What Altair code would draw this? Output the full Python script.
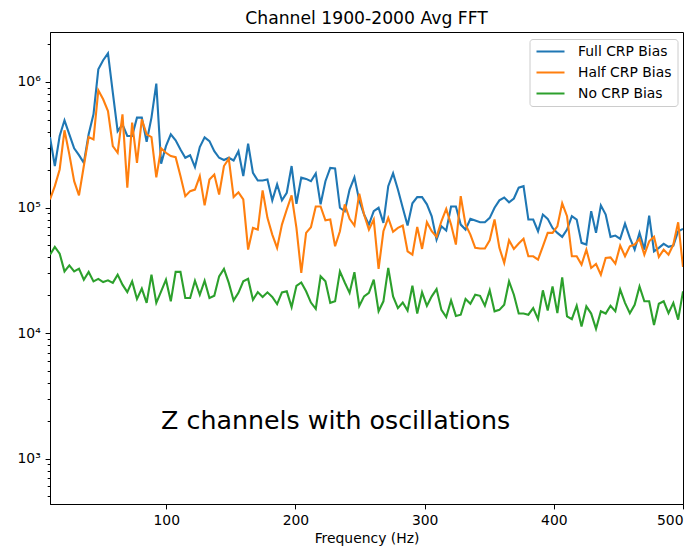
import altair as alt
import pandas as pd

# Frequency bins (Hz): 132 evenly spaced FFT bins from 10 to 500 Hz
freq = [round(10 + i * 490 / 131, 4) for i in range(132)]

full_crp = [3.64e5, 2.14e5, 3.71e5, 4.95e5, 3.83e5, 2.96e5, 2.61e5, 2.27e5, 3.83e5, 5.52e5,
            1.26e6, 1.49e6, 1.69e6, 8.23e5, 4.06e5, 4.59e5, 3.71e5, 3.71e5, 5.2e5, 5.2e5,
            3.34e5, 5.2e5, 9.71e5, 2.23e5, 3.08e5, 3.83e5, 3.43e5, 2.9e5, 2.49e5, 2.61e5,
            2.1e5, 3.03e5, 3.62e5, 3.38e5, 2.81e5, 2.49e5, 2.39e5, 2.49e5, 2.37e5, 2.81e5,
            1.78e5, 3.22e5, 1.89e5, 1.64e5, 1.64e5, 1.67e5, 1.14e5, 1.53e5, 1.14e5, 1.31e5,
            2.14e5, 1.07e5, 1.73e5, 1.69e5, 1.62e5, 1.87e5, 1.06e5, 1.62e5, 2.07e5, 2.05e5,
            9.95e4, 9.34e4, 1.39e5, 1.74e5, 1.14e5, 8.79e4, 7.31e4, 9.34e4, 9.95e4, 7.55e4,
            1.48e5, 1.87e5, 1.39e5, 9.95e4, 7.18e4, 1.08e5, 1.21e5, 1.21e5, 1.06e5, 8.52e4,
            5.55e4, 7.09e4, 6.55e4, 1.02e5, 1.02e5, 7.31e4, 6.67e4, 8.12e4, 7.87e4, 7.63e4,
            7.63e4, 8.27e4, 9.95e4, 1.14e5, 1.2e5, 1.1e5, 1.18e5, 1.44e5, 1.48e5, 8.02e4,
            8.02e4, 6.47e4, 8.79e4, 8.12e4, 6.88e4, 6.28e4, 5.84e4, 6.67e4, 8.52e4, 8.02e4,
            5.23e4, 5.07e4, 9.34e4, 6.28e4, 1.04e5, 8.79e4, 5.84e4, 5.98e4, 5.63e4, 7.45e4,
            5.73e4, 4.62e4, 6.28e4, 4.62e4, 8.63e4, 4.48e4, 4.77e4, 5.13e4, 4.86e4, 4.97e4,
            6.47e4, 6.76e4]

half_crp = [1.16e5, 1.48e5, 2.01e5, 4.12e5, 2.65e5, 1.62e5, 1.25e5, 2.14e5, 3.64e5, 3.49e5,
            8.59e5, 7.28e5, 5.87e5, 3.08e5, 2.73e5, 5.52e5, 1.44e5, 4.74e5, 2.27e5, 5.04e5,
            3.83e5, 3.64e5, 1.74e5, 2.96e5, 2.73e5, 2.57e5, 2.52e5, 1.78e5, 1.23e5, 1.35e5,
            1.39e5, 1.78e5, 1.04e5, 1.67e5, 1.83e5, 1.27e5, 2.14e5, 2.45e5, 1.21e5, 1.32e5,
            1.16e5, 4.62e4, 6.88e4, 6.67e4, 1.37e5, 8.27e4, 6.09e4, 4.77e4, 7.31e4, 9.64e4,
            1.25e5, 6.88e4, 3.01e4, 6.28e4, 6.96e4, 1.02e5, 1.02e5, 7.92e4, 8.02e4, 4.91e4,
            6.47e4, 1.06e5, 8.12e4, 7.18e4, 1.29e5, 8.79e4, 6.67e4, 8.02e4, 3.24e4, 6.47e4,
            8.27e4, 6.4e4, 6.88e4, 7.18e4, 4.48e4, 4.21e4, 7.01e4, 4.68e4, 7.63e4, 6.47e4,
            5.84e4, 7.77e4, 9.76e4, 7.31e4, 5.07e4, 1.23e5, 7.31e4, 6.09e4, 4.77e4, 4.71e4,
            4.71e4, 5.48e4, 8.02e4, 4.77e4, 3.62e4, 5.48e4, 4.68e4, 5.16e4, 5.63e4, 4.09e4,
            4.09e4, 3.85e4, 4.91e4, 6.28e4, 6.28e4, 7.09e4, 1.08e5, 8.52e4, 4.09e4, 4.09e4,
            3.51e4, 4.62e4, 3.3e4, 3.55e4, 2.92e4, 3.97e4, 4.01e4, 3.57e4, 4.97e4, 4.09e4,
            4.91e4, 5.07e4, 5.63e4, 4.21e4, 5.38e4, 5.84e4, 4.04e4, 4.62e4, 4.21e4, 5.07e4,
            7.63e4, 3.36e4]

no_crp = [4.21e4, 4.86e4, 4.29e4, 3.1e4, 3.46e4, 3.1e4, 3.26e4, 2.66e4, 3.07e4, 2.58e4,
          2.7e4, 2.55e4, 2.63e4, 2.51e4, 2.92e4, 2.43e4, 2.12e4, 2.58e4, 1.87e4, 2.26e4,
          1.74e4, 2.92e4, 1.74e4, 2.15e4, 2.66e4, 1.79e4, 3.07e4, 3.07e4, 1.9e4, 1.9e4,
          2.61e4, 2.02e4, 2.61e4, 1.9e4, 1.98e4, 2.83e4, 3.24e4, 2.51e4, 1.82e4, 2.09e4,
          2.58e4, 2.7e4, 1.84e4, 2.12e4, 1.94e4, 2.11e4, 1.94e4, 1.7e4, 2.11e4, 2.15e4,
          1.61e4, 2.38e4, 2.53e4, 2.15e4, 1.75e4, 1.56e4, 2.83e4, 2.58e4, 1.74e4, 1.79e4,
          3.1e4, 2.53e4, 2.09e4, 3.05e4, 1.64e4, 1.96e4, 2.09e4, 2.66e4, 1.49e4, 1.79e4,
          3.3e4, 1.96e4, 1.58e4, 1.75e4, 1.51e4, 2.38e4, 1.43e4, 2.11e4, 1.65e4, 1.96e4,
          2.24e4, 1.53e4, 1.34e4, 1.82e4, 1.37e4, 1.4e4, 1.87e4, 1.71e4, 2.02e4, 1.98e4,
          1.65e4, 2.19e4, 1.49e4, 1.53e4, 1.68e4, 2.58e4, 2.02e4, 1.43e4, 1.43e4, 1.4e4,
          1.58e4, 1.29e4, 2.19e4, 1.51e4, 2.35e4, 1.44e4, 2.78e4, 1.36e4, 1.29e4, 1.65e4,
          1.13e4, 1.63e4, 1.43e4, 1.08e4, 1.49e4, 1.43e4, 1.65e4, 1.49e4, 2.22e4, 1.74e4,
          1.44e4, 1.68e4, 2.35e4, 1.79e4, 1.79e4, 1.16e4, 1.71e4, 1.79e4, 1.44e4, 1.74e4,
          1.28e4, 2.15e4]

series_names = ["Full CRP Bias", "Half CRP Bias", "No CRP Bias"]
series_colors = ["#1f77b4", "#ff7f0e", "#2ca02c"]

x_ticks = [100, 200, 300, 400, 500]
y_ticks = [500, 600, 700, 800, 900,
           1000, 2000, 3000, 4000, 5000, 6000, 7000, 8000, 9000,
           10000, 20000, 30000, 40000, 50000, 60000, 70000, 80000, 90000,
           100000, 200000, 300000, 400000, 500000, 600000, 700000, 800000, 900000,
           1000000, 2000000]

title_text = "Channel 1900-2000 Avg FFT"
x_title = "Frequency (Hz)"
note_text = "Z channels with oscillations"
note_freq = [96]
note_value = [1730]

rows = []
for name, vals in zip(series_names, [full_crp, half_crp, no_crp]):
    for f, v in zip(freq, vals):
        rows.append({"freq": f, "value": v, "series": name})
df = pd.DataFrame(rows)

note_df = pd.DataFrame({"freq": note_freq, "value": note_value, "label": [note_text]})

FONT = "DejaVu Sans"

x_enc = alt.X("freq:Q",
              scale=alt.Scale(domain=[10, 500], nice=False, zero=False),
              axis=alt.Axis(values=x_ticks, title=x_title, tickSize=4.9,
                            labelPadding=4.9, titlePadding=4, format="d"))
y_enc = alt.Y("value:Q",
              scale=alt.Scale(type="log", domain=[435, 2.5e6], nice=False),
              axis=alt.Axis(values=y_ticks, title=None, labelOverlap=False,
                            labelPadding=4.9,
                            tickSize={"condition": {"test": "indexof([1000,10000,100000,1000000], datum.value) >= 0", "value": 4.9}, "value": 2.8},
                            labelExpr="datum.value == 1000 ? '10³' : datum.value == 10000 ? '10⁴' : datum.value == 100000 ? '10⁵' : datum.value == 1000000 ? '10⁶' : ''"))

lines = alt.Chart(df).mark_line(strokeWidth=2.1, clip=True).encode(
    x=x_enc,
    y=y_enc,
    color=alt.Color("series:N",
                    scale=alt.Scale(domain=series_names, range=series_colors),
                    legend=alt.Legend(title=None, orient="none", legendX=479.5, legendY=7,
                                      symbolType="stroke", symbolSize=784, symbolStrokeWidth=2.1,
                                      clipHeight=14, columnPadding=0,
                                      labelFontSize=13.9, labelFont=FONT, labelColor="black",
                                      labelOffset=12, rowPadding=7, padding=5.5,
                                      strokeColor="#cccccc", fillColor="white", cornerRadius=3)),
)

note = alt.Chart(note_df).mark_text(align="left", baseline="alphabetic", fontSize=25.3,
                                    font=FONT, color="black").encode(
    x=alt.X("freq:Q"), y=alt.Y("value:Q"), text="label:N")

chart = alt.layer(lines, note).properties(
    width=633, height=472,
    title=alt.TitleParams(title_text, fontSize=17.2, font=FONT, fontWeight="normal",
                          color="black", offset=5, anchor="middle"),
    padding={"left": 42, "top": 24, "right": 6, "bottom": 44},
    autosize=alt.AutoSizeParams(type="none"),
).configure_view(stroke="black", strokeWidth=1).configure_axis(
    grid=False, domainColor="black", tickColor="black", labelColor="black",
    titleColor="black", labelFont=FONT, titleFont=FONT, labelFontSize=13.9,
    titleFontSize=13.9, titleFontWeight="normal", tickWidth=1, domainWidth=1)

chart.save("out.html", embed_options={"renderer": "svg", "actions": False})
